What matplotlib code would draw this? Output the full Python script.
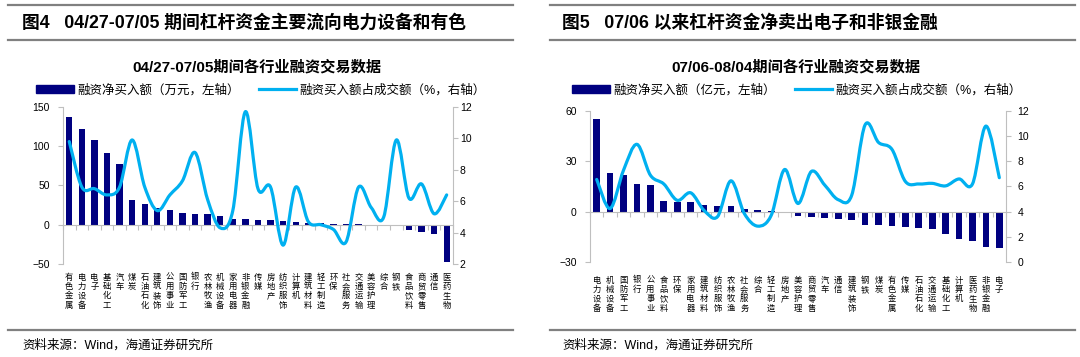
import numpy as np
import matplotlib.pyplot as plt
from matplotlib.path import Path
from matplotlib.patches import PathPatch, Patch
from matplotlib.lines import Line2D

plt.rcParams['font.family'] = ['Liberation Sans', 'Noto Sans CJK SC']

NAVY = '#000080'
SKY = '#00b0f0'
GREY = '#bfbfbf'
RULE = '#808080'

# 图4: 04/27-07/05
cats_a = ['有色金属', '电力设备', '电子', '基础化工', '汽车', '煤炭', '石油石化', '建筑装饰',
          '公用事业', '国防军工', '银行', '农林牧渔', '机械设备', '家用电器', '非银金融', '传媒',
          '房地产', '纺织服饰', '计算机', '建筑材料', '轻工制造', '环保', '社会服务', '交通运输',
          '美容护理', '综合', '钢铁', '食品饮料', '商贸零售', '通信', '医药生物']
net_a = [137, 122, 108, 92, 77, 31, 26, 21, 19, 15, 14, 14, 11, 7.7, 7.7, 6.4,
         5.5, 4.3, 3.4, 2.5, 1.7, 1.0, 0.5, 0.4, -0.5, -1.0, -1.5, -6.5, -9.5, -11.5, -47.9]
ratio_a = [9.8, 6.9, 6.8, 6.4, 6.9, 9.9, 6.9, 5.4, 6.4, 7.3, 9.1, 6.1, 4.3, 5.4, 11.7, 6.8,
           6.9, 3.2, 6.9, 4.7, 4.5, 4.2, 3.4, 6.9, 5.6, 5.0, 9.9, 6.2, 7.1, 5.2, 6.4]

# 图5: 07/06-08/04
cats_b = ['电力设备', '机械设备', '国防军工', '银行', '公用事业', '食品饮料', '环保', '家用电器',
          '建筑材料', '纺织服饰', '农林牧渔', '社会服务', '综合', '轻工制造', '房地产', '美容护理',
          '商贸零售', '汽车', '通信', '建筑装饰', '钢铁', '煤炭', '有色金属', '传媒', '石油石化',
          '交通运输', '基础化工', '计算机', '医药生物', '非银金融', '电子']
net_b = [55, 23.3, 21.9, 16.3, 15.7, 6.4, 5.6, 5.6, 4.0, 3.4, 3.4, 1.6, 0.8, 0.6, -0.4, -2.4,
         -3.4, -3.6, -4.2, -5.0, -7.8, -8.2, -8.7, -9.0, -9.5, -10.1, -13.5, -16.3, -17.5, -20.9, -21.9]
ratio_b = [6.56, 4.25, 7.3, 9.35, 6.9, 6.2, 4.9, 5.5, 4.1, 3.6, 6.45, 3.85, 2.85, 3.7, 7.35, 4.65,
           7.2, 6.1, 4.95, 5.3, 10.9, 9.5, 8.95, 6.4, 6.2, 6.25, 6.05, 6.6, 6.2, 10.8, 6.7]


def smooth(x, y):
    # Excel-style smoothed line as cubic Bezier segments through the points
    pts = np.column_stack([x, y]).astype(float)
    ext = np.vstack([pts[0], pts, pts[-1]])
    verts = [pts[0]]
    codes = [Path.MOVETO]
    for i in range(len(pts) - 1):
        p0, p1, p2, p3 = ext[i], ext[i + 1], ext[i + 2], ext[i + 3]
        verts += [p1 + (p2 - p0) / 6, p2 - (p3 - p1) / 6, p2]
        codes += [Path.CURVE4] * 3
    return Path(verts, codes)


fig = plt.figure(figsize=(10.8, 3.57), dpi=100)


def panel(rect, cats, net, ratio, ylim, yticks, rlim, rticks, rpad, lab_y):
    ax = fig.add_axes(rect)
    x = np.arange(len(cats))
    ax.bar(x, net, width=0.5, color=NAVY, zorder=2)
    ax.set_xlim(-0.5, len(cats) - 0.5)
    ax.set_ylim(*ylim)
    ax.set_yticks(yticks)
    ax.set_xticks(np.arange(len(cats) + 1) - 0.5)
    ax.set_xticklabels([])
    ax.spines['bottom'].set_position(('data', 0))
    for s in ['top', 'right']:
        ax.spines[s].set_visible(False)
    for s in ['left', 'bottom']:
        ax.spines[s].set_color(GREY)
    ax.tick_params(axis='x', length=3.5, color=GREY)
    ax.tick_params(axis='y', length=3.5, color=GREY, labelsize=7.5, pad=6)
    for i, c in enumerate(cats):
        ax.text(i, lab_y, '\n'.join(c), transform=ax.get_xaxis_transform(),
                ha='center', va='top', fontsize=6, linespacing=1.05,
                family='Noto Sans CJK SC')

    ax2 = ax.twinx()
    ax2.add_patch(PathPatch(smooth(x, ratio), fill=False, ec=SKY, lw=2.3,
                            capstyle='round', joinstyle='round'))
    ax2.set_ylim(*rlim)
    ax2.set_yticks(rticks)
    for s in ['top', 'left', 'bottom']:
        ax2.spines[s].set_visible(False)
    ax2.spines['right'].set_color(GREY)
    ax2.tick_params(axis='y', length=3.5, color=GREY, labelsize=7.5, pad=rpad)
    return ax, ax2


panel([0.0583, 0.2605, 0.3611, 0.4398], cats_a, net_a, ratio_a,
      (-50, 150), [-50, 0, 50, 100, 150], (2, 12), [2, 4, 6, 8, 10, 12], 1.5, -0.055)
panel([0.5463, 0.2661, 0.3852, 0.4230], cats_b, net_b, ratio_b,
      (-30, 60), [-30, 0, 30, 60], (0, 12), [0, 2, 4, 6, 8, 10, 12], 4.8, -0.09)

# headers, rules, titles, legends, sources
for x0, x1 in [(8, 513), (550, 1075)]:
    for yy in [5.3, 40, 330]:
        fig.add_artist(Line2D([x0 / 1080, x1 / 1080], [1 - yy / 357] * 2,
                              color=RULE, lw=1.6, transform=fig.transFigure))

fig.text(22 / 1080, 1 - 23 / 357, '图4   04/27-07/05 期间杠杆资金主要流向电力设备和有色',
         fontsize=12.8, fontweight='bold', va='center', ha='left')
fig.text(562 / 1080, 1 - 23 / 357, '图5   07/06 以来杠杆资金净卖出电子和非银金融',
         fontsize=12.8, fontweight='bold', va='center', ha='left')

fig.text(257 / 1080, 1 - 67 / 357, '04/27-07/05期间各行业融资交易数据',
         fontsize=11, fontweight='bold', va='center', ha='center')
fig.text(795.5 / 1080, 1 - 67 / 357, '07/06-08/04期间各行业融资交易数据',
         fontsize=11, fontweight='bold', va='center', ha='center')

line_h = Line2D([], [], color=SKY, lw=2.3)
bar_h = Patch(color=NAVY)
leg_kw = dict(loc='center', ncol=2, frameon=False, fontsize=9, handlelength=3.0,
              handleheight=0.55, columnspacing=1.5, handletextpad=0.3)
fig.legend([bar_h, line_h], ['融资净买入额（万元，左轴）', '融资买入额占成交额（%，右轴）'],
           bbox_to_anchor=(261 / 1080, 1 - 90 / 357), **leg_kw)
fig.legend([bar_h, line_h], ['融资净买入额（亿元，左轴）', '融资买入额占成交额（%，右轴）'],
           bbox_to_anchor=(797 / 1080, 1 - 90 / 357), **leg_kw)

fig.text(22 / 1080, 1 - 345 / 357, '资料来源：Wind，海通证券研究所', fontsize=9, va='center')
fig.text(562 / 1080, 1 - 345 / 357, '资料来源：Wind，海通证券研究所', fontsize=9, va='center')

fig.savefig('out.png', dpi=100)
